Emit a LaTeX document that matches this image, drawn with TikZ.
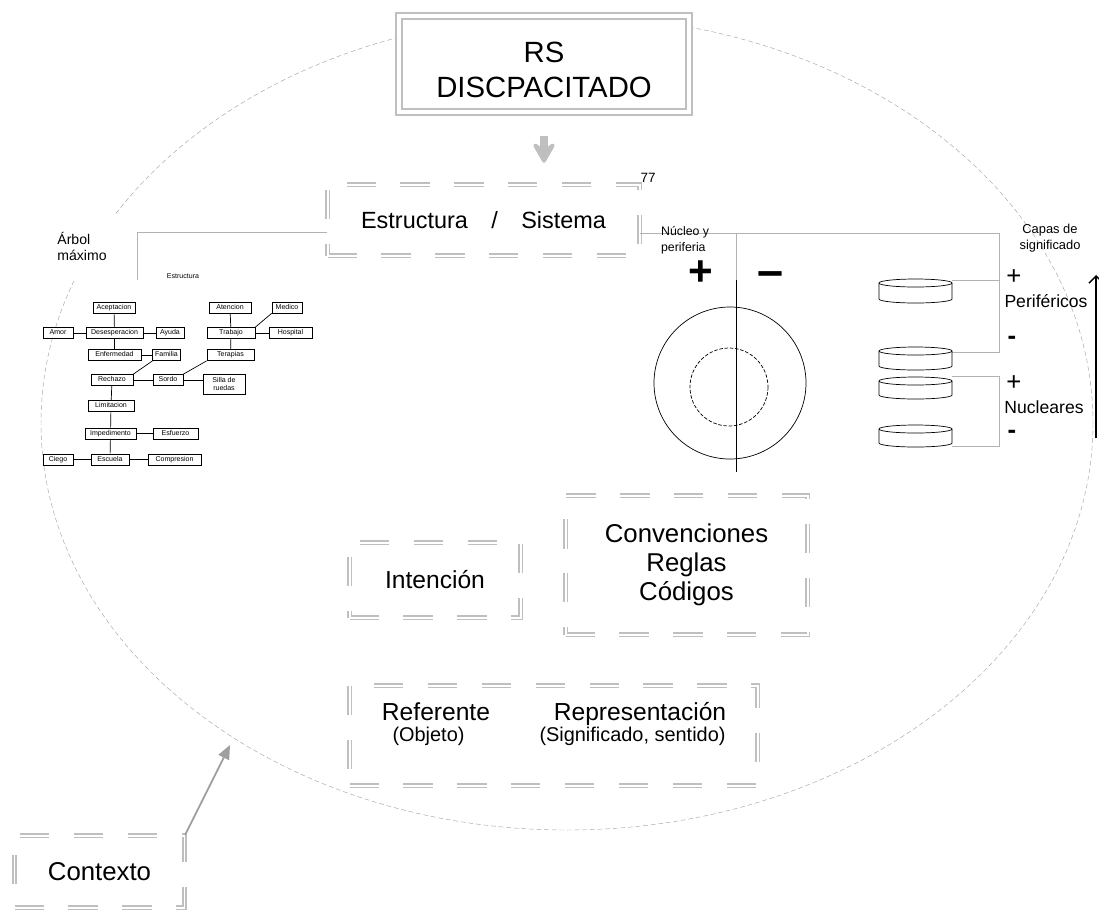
\documentclass[tikz,border=0pt]{standalone}
\usepackage{fontspec}
\setmainfont{Liberation Sans}
\usetikzlibrary{arrows.meta}
\newcommand\pxu{0.03cm}

\begin{document}
\begin{tikzpicture}[x=0.03cm, y=-0.03cm,
	ell/.style={draw=gray!70, line width=0.4pt, dash pattern=on 4pt off 2.5pt},
	rsbox/.style={draw=gray!50, double=white, line width=1.5pt, double distance=3.5pt, fill=white},
	dbox/.style={draw=gray!50, double=white, line width=1.1pt, double distance=1.7pt, dash pattern=on 25pt off 21pt},
	tbox/.style={draw, line width=0.6pt, font=\fontsize{6}{7}\selectfont, inner xsep=2pt, inner ysep=0pt, text height=4.4pt, text depth=1.6pt, minimum height=11*\pxu},
	conn/.style={draw=gray!60, line width=0.6pt},
	disc/.style={line width=0.6pt}]
	\useasboundingbox (0,0) rectangle (1099,911);
	
	\draw[ell] (567,423) ellipse [x radius=526, y radius=407];
	
	\node[rsbox, minimum width=290*\pxu, minimum height=96*\pxu] (rs) at (544,64) {};
	\node[align=center, font=\fontsize{25}{29.5}\selectfont] (rstxt) at (544,70) {RS\\DISCPACITADO};
	\node[dbox, minimum width=312*\pxu, minimum height=71*\pxu, font=\fontsize{20}{24}\selectfont] (est) at (483.5,220) {Estructura\quad/\quad Sistema};
	\node[font=\fontsize{11.5}{13}\selectfont] (num) at (648,178) {77};
	\draw[draw=gray!50, line width=7pt, -{Stealth[length=22pt, width=25pt, inset=9pt, round]}, shorten <=20pt, shorten >=18pt] (rs.south) -- (rs.south |- est.north);
	
	% arbol
	\coordinate (arb) at (137,232);
	\draw[conn] (est.west |- arb) -- (arb) -- (137,280);
	\node[fill=white, align=left, font=\fontsize{12}{13.6}\selectfont, minimum width=66*\pxu, minimum height=66*\pxu] (arbol) at (82,246) {Árbol\\máximo};
	\node[font=\fontsize{6}{7}\selectfont] (esttit) at (183,276) {Estructura};
	
	\node[tbox, minimum width=42*\pxu] (acep) at (114,308) {Aceptacion};
	\node[tbox, minimum width=30*\pxu] (amor) at (58,333) {Amor};
	\node[tbox, minimum width=57*\pxu] (deses) at (114.5,333) {Desesperacion};
	\node[tbox, minimum width=28*\pxu] (ayuda) at (170,333) {Ayuda};
	\node[tbox, minimum width=53*\pxu] (enfer) at (114.5,355) {Enfermedad};
	\node[tbox, minimum width=27*\pxu] (fam) at (166.5,355) {Familia};
	\node[tbox, minimum width=42*\pxu] (rech) at (112,380) {Rechazo};
	\node[tbox, minimum width=30*\pxu] (sordo) at (168,380) {Sordo};
	\node[tbox, minimum width=42*\pxu, minimum height=20*\pxu, text height=, text depth=, align=center] (silla) at (224,384) {Silla de\\ruedas};
	\node[tbox, minimum width=46*\pxu] (limit) at (111,406) {Limitacion};
	\node[tbox, minimum width=51*\pxu] (imped) at (110.5,433.5) {Impedimento};
	\node[tbox, minimum width=45*\pxu] (esfue) at (175.5,433.5) {Esfuerzo};
	\node[tbox, minimum width=30*\pxu] (ciego) at (58,459.5) {Ciego};
	\node[tbox, minimum width=38*\pxu] (escu) at (110,459.5) {Escuela};
	\node[tbox, minimum width=53*\pxu] (comp) at (174.5,459.5) {Compresion};
	\node[tbox, minimum width=42*\pxu] (aten) at (230,307.5) {Atencion};
	\node[tbox, minimum width=30*\pxu] (medi) at (287,307.5) {Medico};
	\node[tbox, minimum width=48*\pxu] (trab) at (231,333) {Trabajo};
	\node[tbox, minimum width=43*\pxu] (hosp) at (290.5,333) {Hospital};
	\node[tbox, minimum width=47*\pxu] (terap) at (230.5,355) {Terapias};
	
	\draw[line width=0.6pt] (acep) -- (deses);
	\draw[line width=0.6pt] (amor) -- (deses);
	\draw[line width=0.6pt] (deses) -- (ayuda);
	\draw[line width=0.6pt] (deses) -- (enfer);
	\draw[line width=0.6pt] (enfer) -- (fam);
	\draw[line width=0.6pt] (fam.south west) -- (rech.north east);
	\draw[line width=0.6pt] (rech) -- (sordo);
	\draw[line width=0.6pt] (sordo.east) -- (sordo.east -| silla.west);
	\draw[line width=0.6pt] (terap.south west) -- (sordo.north east);
	\draw[line width=0.6pt] (rech) -- (limit);
	\draw[line width=0.6pt] (limit) -- (imped);
	\draw[line width=0.6pt] (imped) -- (esfue);
	\draw[line width=0.6pt] (imped) -- (escu);
	\draw[line width=0.6pt] (ciego) -- (escu);
	\draw[line width=0.6pt] (escu) -- (comp);
	\draw[line width=0.6pt] (aten) -- (trab);
	\draw[line width=0.6pt] (trab.north east) -- (medi.south west);
	\draw[line width=0.6pt] (trab) -- (hosp);
	\draw[line width=0.6pt] (trab) -- (terap);
	
	% nucleo y periferia
	\coordinate (nuc) at (736,233);
	\coordinate (capa) at (999,233);
	\coordinate (b1) at (952,280);
	\coordinate (b2) at (952,352);
	\coordinate (b3) at (952,376);
	\coordinate (b4) at (952,446);
	\draw[conn] (est.east |- nuc) -- (capa) -- (capa |- b1) -- (b1);
	\draw[conn] (capa |- b1) -- (capa |- b2) -- (b2);
	\draw[conn] (b3) -- (capa |- b3) -- (capa |- b4) -- (b4);
	\draw[conn] (nuc) -- (736,280);
	\draw[line width=0.6pt] (736,280) -- (736,472);
	\draw[line width=0.6pt] (730,383) circle [radius=76];
	\draw[line width=0.6pt, dash pattern=on 3pt off 1.5pt] (729,387) circle [radius=39];
	
	\node[font=\fontsize{10.5}{13.6}\selectfont, align=left, anchor=west] (nucleo) at (657,240) {Núcleo y\\periferia};
	\node[font=\fontsize{36}{36}\selectfont\bfseries] (mas) at (701,273) {+};
	\node[font=\fontsize{40}{40}\selectfont\bfseries] (menos) at (771,279) {–};
	
	\draw[disc] (879,283) -- (879,299) arc [start angle=180, end angle=0, x radius=36.5, y radius=4] -- (952,283);
	\draw[disc] (915.5,283) ellipse [x radius=36.5, y radius=4];
	\draw[disc] (879,351) -- (879,366) arc [start angle=180, end angle=0, x radius=36.5, y radius=4] -- (952,351);
	\draw[disc] (915.5,351) ellipse [x radius=36.5, y radius=4];
	\draw[disc] (879,381) -- (879,395) arc [start angle=180, end angle=0, x radius=36.5, y radius=4] -- (952,381);
	\draw[disc] (915.5,381) ellipse [x radius=36.5, y radius=4];
	\draw[disc] (879,429) -- (879,443) arc [start angle=180, end angle=0, x radius=36.5, y radius=4] -- (952,429);
	\draw[disc] (915.5,429) ellipse [x radius=36.5, y radius=4];
	
	\node[font=\fontsize{11}{13.6}\selectfont, align=center] (capas) at (1050,238) {Capas de\\significado};
	\node[font=\fontsize{22}{22}\selectfont] (pmas) at (1014,277) {+};
	\node[font=\fontsize{15}{15}\selectfont, anchor=base] (peri) at (1046,307) {Periféricos};
	\node[font=\fontsize{22}{22}\selectfont\bfseries] (pmenos) at (1012,340) {-};
	\node[font=\fontsize{22}{22}\selectfont] (nmas) at (1014,383) {+};
	\node[font=\fontsize{15}{15}\selectfont, anchor=base] (nucl) at (1044,413) {Nucleares};
	\node[font=\fontsize{22}{22}\selectfont\bfseries] (nmenos) at (1012,434) {-};
	\coordinate (capbot) at (1096,438);
	\coordinate (captop) at (1096,275);
	\draw[line width=1.2pt, -{Straight Barb[length=6pt, width=12pt]}] (capbot) -- (captop);
	
	% cajas
	\node[dbox, minimum width=171*\pxu, minimum height=75*\pxu, font=\fontsize{21}{25}\selectfont] (int) at (435,580) {Intención};
	\node[dbox, minimum width=242*\pxu, minimum height=139*\pxu, align=center, font=\fontsize{22}{25}\selectfont] (conv) at (686.5,565) {Convenciones\\Reglas\\Códigos};
	\node[dbox, minimum width=408*\pxu, minimum height=100*\pxu] (refbox) at (553.5,735.5) {};
	\node[font=\fontsize{21}{21}\selectfont, anchor=base] (refe) at (436,720) {Referente};
	\node[font=\fontsize{17}{17}\selectfont, anchor=base] (obj) at (428.5,741) {(Objeto)};
	\node[font=\fontsize{21}{21}\selectfont, anchor=base] (repr) at (640,720) {Representación};
	\node[font=\fontsize{17}{17}\selectfont, anchor=base] (sign) at (632.5,741) {(Significado, sentido)};
	
	\node[dbox, minimum width=170*\pxu, minimum height=72*\pxu, font=\fontsize{22}{22}\selectfont] (ctx) at (99.5,871.5) {Contexto};
	\coordinate (elpt) at (230,745);
	\draw[draw=gray!75, line width=1.5pt, -{Triangle[length=12pt, width=10pt]}] (ctx.north east) -- (elpt);
\end{tikzpicture}
\end{document}
